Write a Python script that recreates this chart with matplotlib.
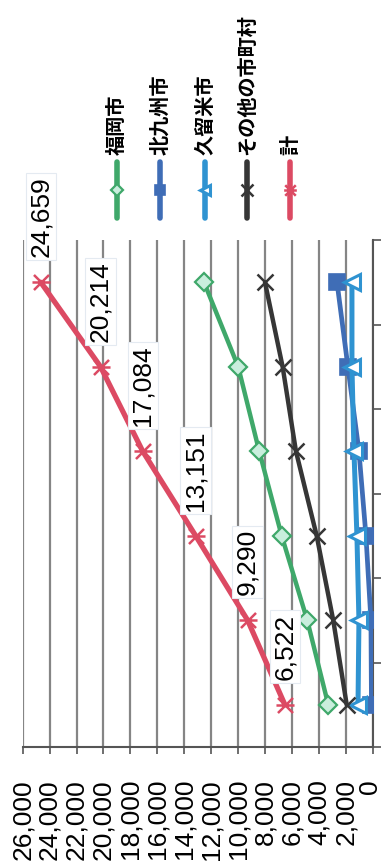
"""Rotated line chart: 福岡県 counts by city, drawn sideways like the scanned page."""

import matplotlib.pyplot as plt
import matplotlib.transforms as mtransforms
import numpy as np
from matplotlib.lines import Line2D
from matplotlib.path import Path

plt.rcParams["font.family"] = ["Liberation Sans", "DejaVu Sans"]

# ---- data ----
periods = ["1", "2", "3", "4", "5", "6"]
fukuoka = [3300, 4860, 6760, 8430, 9990, 12530]
kitakyushu = [90, 130, 500, 1020, 1840, 2650]
kurume = [1090, 1020, 1170, 1390, 1540, 1540]
others = [1930, 2930, 4160, 5700, 6690, 8000]
total = [6522, 9290, 13151, 17084, 20214, 24659]
value_ticks = list(range(0, 26001, 2000))
legend_names = ["福岡市", "北九州市", "久留米市", "その他の市町村", "計"]

# Excel-like "star" marker (X with a bar), turned with the chart
STAR = Path(
    [(-1, -1), (1, 1), (-1, 1), (1, -1), (-1.2, 0), (1.2, 0)],
    [Path.MOVETO, Path.LINETO, Path.MOVETO, Path.LINETO, Path.MOVETO, Path.LINETO],
)

styles = [
    dict(color="#3fa86a", marker="D", ms=9, mfc="#c9eedd", mec="#3fa86a", mew=1.6, lw=3.2),
    dict(color="#3f6db6", marker="s", ms=11, mfc="#3f6db6", mec="#3f6db6", mew=1.2, lw=3.4),
    dict(color="#2f93d1", marker="<", ms=11, mfc="white", mec="#2f93d1", mew=2.2, lw=3.6),
    dict(color="#363636", marker="x", ms=12, mec="#363636", mew=1.8, lw=3.2),
    dict(color="#dc4a63", marker=STAR, ms=13, mfc="none", mec="#dc4a63", mew=1.8, lw=3.8),
]
series = [fukuoka, kitakyushu, kurume, others, total]


def main() -> None:
    fig = plt.figure(figsize=(3.82, 8.64), dpi=100)
    ax = fig.add_axes([0.0594, 0.1354, 0.9162, 0.5868])

    pos = np.arange(len(periods))
    for vals, st in zip(series, styles):
        ax.plot(vals, pos, solid_capstyle="round", zorder=3, **st)

    ax.set_xlim(26000, 0)
    ax.set_ylim(-0.5, len(periods) - 0.5)

    ax.set_xticks(value_ticks)
    ax.set_xticklabels([f"{v:,}" for v in value_ticks], rotation=90, fontsize=19)
    ax.tick_params(axis="x", length=5, width=1.2, pad=18, color="#555555")
    ax.grid(axis="x", color="#858585", lw=1.6)
    ax.set_axisbelow(True)
    # the "0" sits right on the page edge; nudge it in a hair
    zero_lab = ax.get_xticklabels()[0]
    zero_lab.set_transform(zero_lab.get_transform()
                           + mtransforms.ScaledTranslation(-3 / 100, 0, fig.dpi_scale_trans))

    ax.yaxis.tick_right()
    ax.set_yticks(np.arange(-0.5, len(periods), 1.0))
    ax.set_yticklabels([])
    ax.tick_params(axis="y", length=6, width=1.2, color="#555555", direction="out")

    for side in ("top", "left"):
        ax.spines[side].set_visible(False)
    for side in ("bottom", "right"):
        ax.spines[side].set_color("#555555")
        ax.spines[side].set_linewidth(1.5)

    # value labels on the total line
    for y, v in zip(pos, total):
        ax.annotate(
            f"{v:,}", xy=(v, y), xytext=(0, 18), textcoords="offset points",
            rotation=90, ha="center", va="bottom", fontsize=19, zorder=5,
            bbox=dict(boxstyle="square,pad=0.12", fc="white", ec="#e4eaf1", lw=0.8),
        )

    # legend, drawn by hand so it can be turned sideways
    leg_x = np.array([116.7, 160, 205, 246.7, 290]) / 382
    y_top, y_bot = 1 - 162 / 864, 1 - 218 / 864
    for xf, name, st in zip(leg_x, legend_names, styles):
        st2 = dict(st)
        st2["ms"] = st["ms"] * 0.7
        st2["lw"] = 4.0
        fig.add_artist(Line2D([xf, xf, xf], [y_top, (y_top + y_bot) / 2, y_bot],
                              transform=fig.transFigure, markevery=[1],
                              solid_capstyle="round", **st2))
        fig.text(xf, 1 - 155 / 864, name, rotation=90, ha="center", va="bottom",
                 fontsize=14.5, fontweight="bold",
                 family=["Noto Sans CJK JP", "DejaVu Sans"])

    fig.savefig("out.png", dpi=100)
    plt.close(fig)


if __name__ == "__main__":
    main()
